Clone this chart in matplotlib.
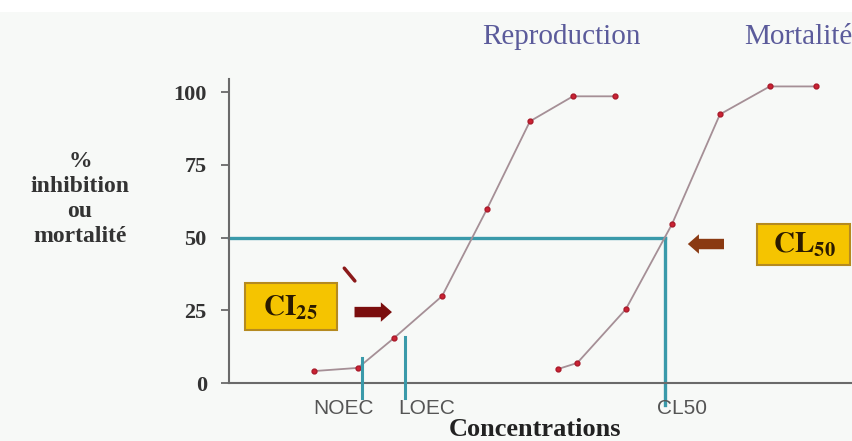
import matplotlib.pyplot as plt
from matplotlib.patches import Rectangle

# données (concentrations en unités arbitraires)
repro_x = [13.6, 20.7, 26.5, 34.2, 41.4, 48.3, 55.2, 62.0]
repro_y = [4.1, 5.2, 15.5, 29.9, 59.8, 90.0, 98.6, 98.6]
mort_x = [52.8, 55.9, 63.7, 71.1, 78.8, 86.8, 94.2]
mort_y = [4.8, 6.9, 25.4, 54.6, 92.4, 102.0, 102.0]

seuils = ["NOEC", "LOEC", "CL50"]
seuils_x = [21.3, 28.2, 70.0]
seuils_y = [8.6, 15.8, 50.0]
etiquettes_x = [18.3, 31.7, 72.7]
yticks = [0, 25, 50, 75, 100]

serif = "Liberation Serif"
sans = "Liberation Sans"
plt.rcParams["mathtext.fontset"] = "stix"

fig = plt.figure(figsize=(8.52, 4.41), dpi=100, facecolor="#f7f9f7")
# bande blanche en haut (capture d'écran)
fig.patches.append(Rectangle((0, 1 - 12 / 441), 1, 12 / 441, transform=fig.transFigure,
                             facecolor="white", edgecolor="none"))
ax = fig.add_axes([0.2688, 0.1315, 0.7312, 0.689])
ax.set_facecolor("#f7f9f7")
ax.set_xlim(0, 100)
ax.set_ylim(0, 104.5)

# courbes
ligne = "#a58f96"
point = "#cc2233"
ax.plot(repro_x, repro_y, color=ligne, lw=1.3, marker="o", ms=3.5,
        mfc=point, mec="#aa1a2a", zorder=3)
ax.plot(mort_x, mort_y, color=ligne, lw=1.3, marker="o", ms=3.5,
        mfc=point, mec="#aa1a2a", zorder=3)

# lignes turquoises
teal = "#3a9aaa"
ax.plot([0, seuils_x[2]], [50, 50], color=teal, lw=2.4, clip_on=False, zorder=2)
ax.plot([seuils_x[0]] * 2, [-5, seuils_y[0]], color=teal, lw=2.2, clip_on=False, zorder=4)
ax.plot([seuils_x[1]] * 2, [-5, seuils_y[1]], color=teal, lw=2.2, clip_on=False, zorder=4)
ax.plot([seuils_x[2]] * 2, [-7.5, seuils_y[2]], color=teal, lw=2.4, clip_on=False, zorder=2)

# axes
for s in ["top", "right"]:
    ax.spines[s].set_visible(False)
for s in ["left", "bottom"]:
    ax.spines[s].set_color("#6a6a6a")
    ax.spines[s].set_linewidth(1.5)
ax.set_yticks(yticks)
ax.set_yticklabels([str(v) for v in yticks], fontfamily=serif,
                   fontweight="bold", fontsize=16, color="#333333")
ax.tick_params(axis="y", length=6, width=1.3, color="#6a6a6a", pad=10)
ax.set_xticks([])
for nom, xe in zip(seuils, etiquettes_x):
    ax.text(xe, -8.8, nom, fontfamily=sans, fontsize=15, color="#555555",
            ha="center", va="center")

# encadrés jaunes
ax.add_patch(Rectangle((2.6, 18.2), 14.7, 16.2, facecolor="#f5c400",
                       edgecolor="#b58a20", lw=1.5, zorder=5))
ax.text(9.9, 26.0, r"$\mathbf{CI_{25}}$", fontsize=21, ha="center",
        va="center", color="#2a1a00", zorder=6)
ax.add_patch(Rectangle((84.8, 40.5), 14.9, 14.1, facecolor="#f5c400",
                       edgecolor="#b58a20", lw=1.5, zorder=5, clip_on=False))
ax.text(92.3, 47.6, r"$\mathbf{CL_{50}}$", fontsize=21, ha="center",
        va="center", color="#2a1a00", zorder=6)

# flèches
style = "simple,head_width=1.4,head_length=0.8,tail_width=0.75"
ax.annotate("", xy=(26.6, 24.4), xytext=(19.7, 24.4),
            arrowprops=dict(arrowstyle=style, color="#7b0e0e", lw=0))
ax.annotate("", xy=(73.2, 47.8), xytext=(79.9, 47.8),
            arrowprops=dict(arrowstyle=style, color="#8a3a12", lw=0))
ax.plot([18.5, 20.2], [39.5, 35.1], color="#8b1a1a", lw=2.5, solid_capstyle="round")

# textes
fig.text(561 / 852, 1 - 37 / 441, "Reproduction", fontfamily=serif,
         fontsize=21, color="#5b5b9b", ha="center", va="center")
fig.text(744 / 852, 1 - 37 / 441, "Mortalité", fontfamily=serif,
         fontsize=21, color="#5b5b9b", ha="left", va="center")
fig.text(80 / 852, 1 - 199 / 441, "%\ninhibition\nou\nmortalité", fontfamily=serif,
         fontweight="bold", fontsize=17, color="#333333", ha="center",
         va="center", linespacing=1.25)
fig.text(535 / 852, 1 - 430 / 441, "Concentrations", fontfamily=serif,
         fontweight="bold", fontsize=19, color="#222222", ha="center", va="center")

plt.savefig("out.png", dpi=100, facecolor=fig.get_facecolor())
